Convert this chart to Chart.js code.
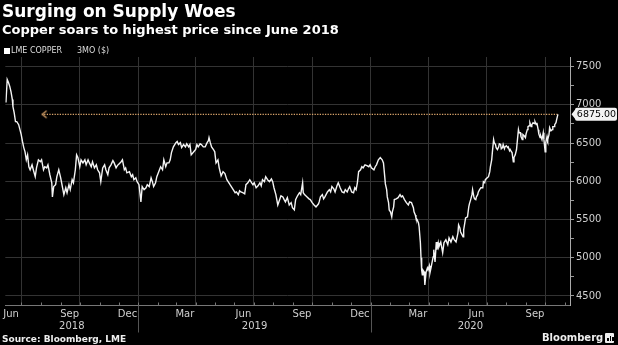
<!DOCTYPE html>
<html><head><meta charset="utf-8">
<script src="https://cdn.jsdelivr.net/npm/chart.js@4.4.1/dist/chart.umd.min.js"></script>
<style>
html,body{margin:0;padding:0;background:#000;}
body{width:618px;height:345px;position:relative;overflow:hidden;font-family:"DejaVu Sans",sans-serif;color:#fff;}
#c{position:absolute;left:0;top:0;}
.t{position:absolute;white-space:pre;line-height:1;}
#title{left:2px;top:3px;font-size:17px;font-weight:bold;}
#sub{left:2px;top:23px;font-size:13px;font-weight:bold;}
#sw{position:absolute;left:4px;top:48px;width:6px;height:6px;background:#fff;}
#leg1{left:11px;top:47px;font-size:8px;color:#ddd;}
#leg2{left:77px;top:47px;font-size:8px;color:#ddd;}
#src{left:2px;top:335px;font-size:9px;font-weight:bold;color:#eee;}
#bb{left:542px;top:333px;font-size:10px;font-weight:bold;color:#eee;}
#ic{position:absolute;left:605px;top:333px;width:9px;height:10px;background:#eee;border-radius:1px;}
#ic i{position:absolute;bottom:2px;width:1.5px;background:#000;}
</style></head><body>
<canvas id="c" width="618" height="345"></canvas>
<div class="t" id="title">Surging on Supply Woes</div>
<div class="t" id="sub">Copper soars to highest price since June 2018</div>
<div id="sw"></div>
<div class="t" id="leg1">LME COPPER</div>
<div class="t" id="leg2">3MO ($)</div>
<div class="t" id="src">Source: Bloomberg, LME</div>
<div class="t" id="bb">Bloomberg</div>
<div id="ic"><i style="left:2px;height:3px"></i><i style="left:4.5px;height:5px"></i><i style="left:7px;height:4px"></i></div>
<script>
// x values: days since 1 Jul 2018
const tradeDays = [
-24,-22,-20,-18,-16,-14,-13,-11,-9,-7,-4,-2,0,2,4,6,8,10,12,14,17,19,22,24,27,30,32,35,37,40,42,45,48,49,51,54,56,59,62,64,67,70,72,75,77,80,82,85,87,
89,92,94,97,100,102,105,107,110,112,115,118,120,123,125,128,131,133,136,138,141,144,146,149,151,154,157,159,162,164,166,170,173,175,177,180,182,185,188,190,193,196,198,201,204,206,208,211,213,216,219,222,224,227,229,232,234,236,239,243,245,247,250,252,255,258,260,263,265,267,271,274,276,278,281,283,286,289,292,294,295,297,299,302,
304,306,309,311,314,317,320,323,325,328,330,333,336,338,341,343,345,348,351,353,356,359,362,364,366,369,372,375,377,379,382,384,387,390,393,395,397,400,403,406,408,411,413,415,418,421,424,426,429,431,434,437,439,442,443,445,447,449,452,454,457,460,463,467,468,470,473,475,477,481,484,486,488,491,493,496,498,501,504,
507,509,512,514,516,519,522,524,526,528,530,533,535,537,540,543,546,548,550,554,556,558,561,564,567,569,571,572,574,575,577,578,580,582,583,585,586,589,592,595,597,599,602,605,608,610,613,616,617,619,620,622,624,625,627,628,629,630,631,633,634,636,638,639,641,642,644,647,648,650,652,653,655,656,659,
662,664,667,670,672,675,678,680,683,686,687,689,690,694,695,697,698,701,703,704,706,708,709,711,712,714,715,717,718,720,722,725,726,728,729,732,734,736,737,739,740,742,743,745,746,748,750,751,753,754,756,757,759,760,762,764,765,767,768,770,771,773,774,776,778,779,781,782,784,785,787,788,790,792,793,795,796,798,799,801,802,804,806,807,809,810,812,813,815,816,818,820,821,823,824,826,827,829,830,832,834,835,837,838,840,841,843
];
const copperPrice = [
7030,7330,7290,7240,7170,7070,6975,6895,6780,6780,6740,6675,6610,6520,6440,6385,6280,6345,6190,6150,6215,6150,6060,6175,6280,6255,6280,6150,6190,6175,6215,6085,5980,5795,5930,5955,6060,6150,6045,5955,5825,5915,5850,5955,5890,6020,5980,6150,6345,
6310,6190,6280,6240,6280,6215,6280,6240,6190,6255,6175,6215,6150,6110,5995,6175,6215,6150,6085,6175,6215,6270,6240,6175,6205,6230,6255,6280,6150,6175,6110,6125,6060,6085,6020,6045,5995,5955,5730,5930,5890,5915,5955,5930,6045,5995,5930,5980,6060,6125,6190,6150,6280,6190,6240,6240,6280,6375,6450,6505,6520,6480,6505,6440,6480,6450,6490,6450,6480,6345,6385,6415,6480,6450,6490,6480,6450,6450,6505,6530,6570,6505,6450,6415,
6385,6240,6280,6175,6070,6125,6100,6020,5995,5955,5930,5890,5850,5860,5825,5875,5860,5850,5835,5955,5980,6020,5980,5955,5980,5915,5940,5980,5940,6020,5995,6060,6020,5995,6030,5995,5915,5825,5690,5760,5810,5795,5760,5730,5785,5690,5720,5655,5625,5760,5810,5850,5825,5980,5850,5825,5810,5795,5770,5760,5720,5690,5665,5705,5730,5795,5825,5770,5795,5860,5890,5860,5930,5900,5860,5940,5980,5915,5860,
5850,5890,5860,5900,5930,5860,5850,5915,5890,5980,6125,6150,6190,6175,6215,6205,6190,6215,6175,6150,6190,6215,6280,6310,6280,6240,6060,5965,5890,5795,5720,5625,5600,5535,5600,5665,5760,5770,5785,5825,5795,5810,5760,5720,5690,5730,5720,5655,5600,5560,5520,5495,5455,5405,5195,5000,4840,4775,4840,4815,4645,4815,4865,4840,4895,4800,4880,5010,5105,4945,5205,5105,5195,5140,5205,
5065,5195,5235,5170,5260,5205,5275,5235,5205,5325,5430,5390,5340,5275,5365,5470,5520,5535,5665,5705,5760,5825,5890,5795,5770,5760,5795,5825,5860,5890,5915,5915,5995,5980,6020,6045,6060,6125,6190,6280,6375,6545,6505,6480,6440,6415,6450,6490,6480,6425,6440,6480,6425,6450,6465,6440,6450,6400,6415,6385,6375,6255,6310,6345,6415,6505,6675,6635,6635,6585,6545,6610,6595,6570,6620,6675,6715,6725,6765,6715,6740,6765,6755,6780,6740,6765,6675,6620,6570,6595,6545,6635,6545,6385,6505,6585,6545,6610,6700,6660,6675,6715,6715,6740,6765,6805,6875
];
const refLevel = 6875;
const refLabel = '6875.00';
const refStartDay = 36;
const xMin = -25, xMax = 862;
const yMin = 4375, yMax = 7625;
const yTickValues = [4500,4750,5000,5250,5500,5750,6000,6250,6500,6750,7000,7250,7500];
const gridDays = [0,92,184,274,365,457,549,640,731,823];
const monthStartDays = [0,31,62,92,123,153,184,215,243,274,304,335,365,396,427,457,488,518,549,580,609,640,670,701,731,762,793,823,854];
const monthLabels = ['Jun','Sep','Dec','Mar','Jun','Sep','Dec','Mar','Jun','Sep'];
const monthLabelDays = [-16,76,167,257,349,441,532,623,715,807];
const yearLabels = ['2018','2019','2020'];
const yearBoundaryDays = [184,549];

const arrowImg = document.createElement('canvas');
arrowImg.width = 8; arrowImg.height = 10;
(function(){const g=arrowImg.getContext('2d');g.strokeStyle='#d9a46b';g.lineWidth=1.3;g.beginPath();g.moveTo(6.5,1.5);g.lineTo(2,5);g.lineTo(6.5,8.5);g.stroke();})();

const decor = {
  id:'decor',
  afterDraw(chart){
    const {ctx, chartArea:a, scales:{x,y}} = chart;
    ctx.save();
    ctx.strokeStyle='#777'; ctx.lineWidth=1;
    ctx.beginPath();
    monthStartDays.forEach(d=>{ if(d<xMin||d>xMax) return; const px=Math.round(x.getPixelForValue(d))+0.5; ctx.moveTo(px,a.bottom); ctx.lineTo(px,a.bottom-3); });
    ctx.stroke();
    ctx.strokeStyle='#555';
    ctx.beginPath();
    yearBoundaryDays.forEach(d=>{ const px=Math.round(x.getPixelForValue(d))+0.5; ctx.moveTo(px,a.bottom); ctx.lineTo(px,a.bottom+27); });
    ctx.stroke();
    ctx.fillStyle='#cfcfcf'; ctx.font='10px "DejaVu Sans"'; ctx.textAlign='center'; ctx.textBaseline='middle';
    monthLabels.forEach((l,i)=>{ ctx.fillText(l, x.getPixelForValue(monthLabelDays[i]), a.bottom+8.5); });
    const bounds=[a.left, ...yearBoundaryDays.map(d=>x.getPixelForValue(d)), a.right];
    yearLabels.forEach((l,i)=>{ ctx.fillText(l,(bounds[i]+bounds[i+1])/2, a.bottom+20.5); });
    // value tag
    const yy=y.getPixelForValue(refLevel);
    const L=a.right+5, R=617, T=yy-6.5, B=yy+6.5, r=2;
    ctx.fillStyle='#f2f2f2';
    ctx.beginPath();
    ctx.moveTo(a.right+1.5,yy); ctx.lineTo(L,T+2); ctx.lineTo(L,T+r); ctx.quadraticCurveTo(L,T,L+r,T);
    ctx.lineTo(R-r,T); ctx.quadraticCurveTo(R,T,R,T+r); ctx.lineTo(R,B-r); ctx.quadraticCurveTo(R,B,R-r,B);
    ctx.lineTo(L+r,B); ctx.quadraticCurveTo(L,B,L,B-r); ctx.lineTo(L,B-2); ctx.closePath(); ctx.fill();
    ctx.fillStyle='#000'; ctx.textAlign='center'; ctx.font='9.5px "DejaVu Sans"';
    ctx.fillText(refLabel, (L+R)/2+0.5, yy+0.5);
    ctx.restore();
  }
};

new Chart(document.getElementById('c'), {
  type:'line',
  data:{datasets:[
    {label:'LME COPPER 3MO ($)', data:tradeDays.map((d,i)=>({x:d,y:copperPrice[i]})), borderColor:'#f4f4f4', borderWidth:1.4, pointRadius:0, tension:0, order:1},
    {label:'ref', data:[{x:refStartDay,y:refLevel},{x:tradeDays[tradeDays.length-1],y:refLevel}], borderColor:'#d9a46b', borderWidth:1.3, borderDash:[1.3,1.3], pointRadius:[4,0], pointStyle:[arrowImg,'circle'], order:2}
  ]},
  options:{
    responsive:false, animation:false, devicePixelRatio:1,
    layout:{padding:{top:57,left:0,right:0,bottom:0}},
    plugins:{legend:{display:false}, tooltip:{enabled:false}, title:{display:false}},
    scales:{
      x:{type:'linear', min:xMin, max:xMax,
         afterBuildTicks:s=>{s.ticks=gridDays.map(v=>({value:v}));},
         afterFit:s=>{s.height=39.5;},
         grid:{color:'#333', drawTicks:false}, border:{display:true,color:'#777'}, ticks:{display:false}},
      y:{type:'linear', position:'right', min:yMin, max:yMax,
         afterBuildTicks:s=>{s.ticks=yTickValues.map(v=>({value:v}));},
         afterFit:s=>{s.width=48;},
         grid:{color:c=>(c.tick&&c.tick.value%500===0)?'#333':'rgba(0,0,0,0)', tickColor:'#999', tickLength:4},
         border:{display:true,color:'#aaa'},
         ticks:{color:'#d0d0d0', font:{family:'DejaVu Sans',size:10}, padding:2, callback:v=>v%500===0?String(v):''}}
    }
  },
  plugins:[decor]
});
</script>
</body></html>
